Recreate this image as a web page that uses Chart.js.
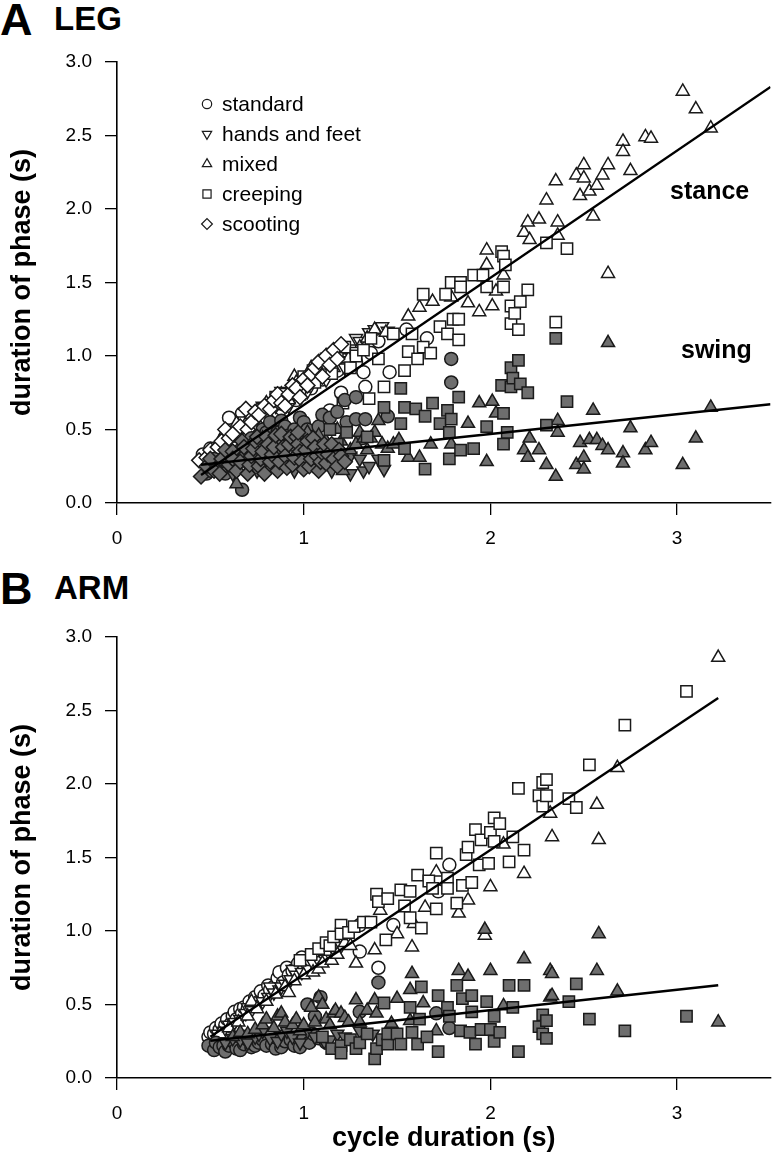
<!DOCTYPE html>
<html>
<head>
<meta charset="utf-8">
<script src="https://cdn.jsdelivr.net/npm/chart.js@4.4.0/dist/chart.umd.min.js"></script>
<style>
body { margin:0; background:#fff; width:780px; height:1173px; position:relative; overflow:hidden; font-family:"Liberation Sans", Arial, sans-serif; }
canvas { position:absolute; left:0; }
.lbl { position:absolute; font-weight:bold; color:#000; line-height:1; white-space:nowrap; }
</style>
</head>
<body>
<div class="lbl" style="left:0;top:-3px;font-size:45px">A</div>
<div class="lbl" style="left:54px;top:2px;font-size:33px">LEG</div>
<div class="lbl" style="left:0;top:566px;font-size:45px">B</div>
<div class="lbl" style="left:54px;top:571px;font-size:33px">ARM</div>
<canvas id="legChart" width="780" height="575" style="top:0"></canvas>
<canvas id="armChart" width="780" height="598" style="top:575px"></canvas>
<script>
// axis ticks
var xTicks = [0, 1, 2, 3];
var yTicks = [0, 0.5, 1, 1.5, 2, 2.5, 3];
var legendLabels = ['standard', 'hands and feet', 'mixed', 'creeping', 'scooting'];

// ---- A: LEG, stance (open) ----
var legStanceStandard = [[0.46,0.33],[0.50,0.37],[0.52,0.34],[0.55,0.38],[0.58,0.45],[0.62,0.50],[0.64,0.46],[0.67,0.61],[0.70,0.55],[0.72,0.52],[0.74,0.58],[0.78,0.62],[0.80,0.58],[0.82,0.66],[0.86,0.70],[0.88,0.64],[0.90,0.72],[0.94,0.76],[0.96,0.70],[0.98,0.80],[1.02,0.84],[1.04,0.78],[1.05,0.88],[1.08,0.90],[1.10,0.84],[1.12,0.95],[1.14,0.63],[1.18,0.90],[1.20,0.75],[1.25,1.00],[1.28,0.96],[1.32,0.89],[1.33,0.79],[1.36,1.02],[1.40,1.10],[1.46,0.89],[1.55,1.18],[1.66,1.12],[0.60,0.58]];
var legStanceHands = [[0.60,0.42],[0.65,0.48],[0.68,0.56],[0.70,0.52],[0.75,0.58],[0.78,0.66],[0.80,0.62],[0.85,0.66],[0.88,0.76],[0.90,0.70],[0.92,0.66],[0.95,0.75],[0.98,0.84],[1.00,0.80],[1.02,0.76],[1.05,0.85],[1.08,0.94],[1.10,0.90],[1.12,0.84],[1.15,0.95],[1.18,1.02],[1.20,1.00],[1.22,0.92],[1.25,1.05],[1.28,1.12],[1.30,1.10],[1.35,1.16],[1.38,1.18],[1.42,1.20],[1.45,1.17]];
var legStanceMixed = [[0.48,0.30],[0.52,0.36],[0.55,0.42],[0.60,0.44],[0.64,0.54],[0.68,0.50],[0.70,0.56],[0.72,0.60],[0.76,0.62],[0.80,0.68],[0.84,0.66],[0.88,0.74],[0.92,0.70],[0.95,0.86],[0.96,0.82],[1.00,0.78],[1.04,0.92],[1.08,0.86],[1.10,0.96],[1.12,1.00],[1.16,0.92],[1.18,1.05],[1.20,1.02],[1.21,1.04],[1.24,0.98],[1.30,1.06],[1.34,1.12],[1.38,1.18],[1.44,1.16],[1.56,1.27],[1.62,1.33],[1.69,1.37],[1.79,1.40],[1.88,1.36],[1.94,1.30],[1.98,1.72],[1.98,1.62],[2.01,1.34],[2.03,1.44],[2.07,1.55],[2.18,1.84],[2.20,1.91],[2.21,1.79],[2.26,1.93],[2.30,2.06],[2.35,2.19],[2.36,1.91],[2.36,1.82],[2.46,2.23],[2.48,2.09],[2.50,2.30],[2.50,2.21],[2.53,2.12],[2.55,1.95],[2.57,2.16],[2.60,2.23],[2.63,2.30],[2.63,1.56],[2.71,2.46],[2.71,2.39],[2.75,2.26],[2.83,2.49],[2.86,2.48],[3.03,2.80],[3.10,2.68],[3.18,2.55]];
var legStanceCreeping = [[0.78,0.64],[0.85,0.72],[0.90,0.74],[0.95,0.80],[0.98,0.74],[1.00,0.86],[1.05,0.90],[1.06,0.82],[1.10,0.95],[1.12,0.98],[1.15,0.88],[1.18,1.02],[1.21,0.68],[1.22,1.06],[1.25,0.92],[1.28,1.02],[1.28,1.00],[1.32,1.04],[1.35,0.71],[1.36,1.12],[1.40,0.98],[1.43,0.79],[1.48,1.15],[1.54,0.90],[1.56,1.03],[1.58,1.15],[1.61,0.98],[1.64,1.06],[1.64,1.42],[1.68,1.02],[1.73,1.20],[1.76,1.42],[1.77,1.15],[1.79,1.50],[1.80,1.25],[1.83,1.25],[1.83,1.11],[1.84,1.50],[1.84,1.47],[1.91,1.55],[1.96,1.55],[1.98,1.47],[2.06,1.71],[2.07,1.68],[2.07,1.47],[2.08,1.62],[2.11,1.34],[2.11,1.22],[2.13,1.29],[2.15,1.18],[2.16,1.37],[2.20,1.45],[2.30,1.77],[2.35,1.23],[2.41,1.73]];
var legStanceScooting = [[0.44,0.29],[0.48,0.31],[0.50,0.36],[0.54,0.38],[0.56,0.42],[0.58,0.50],[0.60,0.44],[0.62,0.47],[0.66,0.52],[0.69,0.64],[0.70,0.50],[0.72,0.55],[0.74,0.62],[0.76,0.60],[0.79,0.66],[0.82,0.64],[0.84,0.70],[0.86,0.74],[0.88,0.68],[0.90,0.66],[0.92,0.74],[0.94,0.80],[0.96,0.78],[0.98,0.72],[1.00,0.84],[1.02,0.80],[1.04,0.88],[1.06,0.92],[1.08,0.96],[1.10,0.86],[1.12,1.00],[1.14,0.94],[1.16,1.04],[1.18,0.98],[1.20,1.08]];

// ---- A: LEG, swing (filled) ----
var legSwingStandard = [[0.48,0.20],[0.50,0.22],[0.52,0.30],[0.55,0.28],[0.56,0.24],[0.58,0.20],[0.60,0.32],[0.62,0.24],[0.66,0.36],[0.67,0.09],[0.70,0.30],[0.72,0.44],[0.75,0.40],[0.78,0.50],[0.80,0.48],[0.82,0.55],[0.85,0.42],[0.86,0.48],[0.88,0.56],[0.90,0.52],[0.92,0.46],[0.95,0.50],[0.98,0.58],[1.00,0.55],[1.02,0.50],[1.05,0.45],[1.08,0.52],[1.10,0.60],[1.14,0.58],[1.18,0.62],[1.22,0.70],[1.23,0.55],[1.28,0.72],[1.28,0.57],[1.31,0.44],[1.33,0.57],[1.45,0.59],[1.79,0.98],[1.79,0.82]];
var legSwingHands = [[0.62,0.20],[0.70,0.25],[0.75,0.22],[0.80,0.32],[0.85,0.25],[0.90,0.28],[0.95,0.22],[1.00,0.35],[1.05,0.26],[1.10,0.30],[1.15,0.22],[1.15,0.34],[1.20,0.26],[1.25,0.20],[1.25,0.32],[1.30,0.30],[1.32,0.22],[1.35,0.25],[1.40,0.30],[1.43,0.23]];
var legSwingMixed = [[0.58,0.28],[0.64,0.13],[0.68,0.34],[0.72,0.40],[0.75,0.30],[0.78,0.44],[0.82,0.38],[0.85,0.35],[0.88,0.42],[0.92,0.30],[0.95,0.38],[0.98,0.45],[1.00,0.30],[1.02,0.48],[1.05,0.40],[1.08,0.46],[1.10,0.35],[1.12,0.42],[1.15,0.28],[1.18,0.50],[1.20,0.42],[1.21,0.22],[1.25,0.36],[1.28,0.40],[1.30,0.48],[1.32,0.44],[1.34,0.36],[1.36,0.44],[1.38,0.48],[1.40,0.56],[1.42,0.40],[1.45,0.37],[1.48,0.40],[1.51,0.43],[1.56,0.31],[1.62,0.31],[1.68,0.40],[1.79,0.40],[1.88,0.54],[1.94,0.68],[1.98,0.28],[2.01,0.69],[2.03,0.61],[2.18,0.36],[2.20,0.31],[2.21,0.44],[2.26,0.36],[2.30,0.26],[2.35,0.18],[2.36,0.56],[2.36,0.48],[2.46,0.26],[2.48,0.41],[2.50,0.31],[2.50,0.23],[2.53,0.43],[2.55,0.63],[2.57,0.43],[2.60,0.39],[2.63,0.36],[2.63,1.09],[2.71,0.34],[2.71,0.27],[2.75,0.51],[2.83,0.36],[2.86,0.41],[3.03,0.26],[3.10,0.44],[3.18,0.65]];
var legSwingCreeping = [[1.14,0.50],[1.18,0.40],[1.23,0.48],[1.34,0.45],[1.43,0.65],[1.43,0.29],[1.52,0.78],[1.52,0.54],[1.54,0.65],[1.54,0.37],[1.60,0.64],[1.65,0.59],[1.65,0.23],[1.69,0.68],[1.73,0.54],[1.77,0.63],[1.78,0.48],[1.78,0.30],[1.79,0.57],[1.83,0.72],[1.84,0.36],[1.91,0.37],[1.98,0.52],[2.06,0.80],[2.07,0.61],[2.07,0.40],[2.09,0.48],[2.11,0.92],[2.11,0.79],[2.12,0.85],[2.15,0.97],[2.16,0.81],[2.20,0.75],[2.30,0.53],[2.35,1.12],[2.41,0.69]];
var legSwingScooting = [[0.45,0.18],[0.48,0.25],[0.50,0.30],[0.52,0.22],[0.55,0.20],[0.56,0.30],[0.58,0.36],[0.60,0.26],[0.62,0.35],[0.62,0.30],[0.64,0.22],[0.66,0.28],[0.67,0.42],[0.68,0.38],[0.70,0.20],[0.71,0.26],[0.72,0.32],[0.73,0.37],[0.74,0.42],[0.75,0.45],[0.76,0.25],[0.77,0.30],[0.78,0.35],[0.79,0.20],[0.80,0.45],[0.81,0.40],[0.82,0.28],[0.83,0.33],[0.84,0.38],[0.85,0.46],[0.86,0.22],[0.87,0.28],[0.88,0.47],[0.89,0.38],[0.90,0.32],[0.91,0.24],[0.92,0.40],[0.93,0.45],[0.94,0.26],[0.95,0.31],[0.96,0.45],[0.97,0.40],[0.97,0.48],[0.98,0.35],[0.99,0.28],[1.00,0.23],[1.01,0.36],[1.02,0.42],[1.03,0.25],[1.04,0.30],[1.05,0.44],[1.06,0.38],[1.07,0.32],[1.08,0.22],[1.09,0.28],[1.10,0.34],[1.11,0.40],[1.12,0.27],[1.13,0.33],[1.15,0.40],[1.16,0.30],[1.18,0.25],[1.19,0.36],[1.20,0.32],[1.22,0.28]];

// ---- B: ARM, stance (open) ----
var armStanceStandard = [[0.49,0.28],[0.50,0.31],[0.52,0.30],[0.53,0.34],[0.55,0.33],[0.56,0.37],[0.58,0.36],[0.59,0.40],[0.61,0.37],[0.62,0.42],[0.63,0.45],[0.64,0.40],[0.66,0.47],[0.67,0.44],[0.68,0.48],[0.70,0.47],[0.71,0.52],[0.73,0.50],[0.74,0.55],[0.76,0.52],[0.77,0.59],[0.79,0.56],[0.81,0.63],[0.82,0.60],[0.84,0.62],[0.86,0.68],[0.87,0.72],[0.89,0.65],[0.91,0.75],[0.92,0.70],[0.94,0.73],[0.97,0.78],[0.99,0.82],[1.00,0.74],[1.03,0.76],[1.04,0.80],[1.08,0.85],[1.12,0.84],[1.30,1.04],[1.30,0.86],[1.40,0.75],[1.48,1.04],[1.72,1.27],[1.78,1.45]];
var armStanceHands = [[0.54,0.30],[0.57,0.32],[0.60,0.36],[0.63,0.38],[0.66,0.40],[0.69,0.44],[0.70,0.48],[0.72,0.46],[0.75,0.50],[0.78,0.52],[0.81,0.55],[0.82,0.62],[0.84,0.58],[0.87,0.60],[0.88,0.62],[0.90,0.64],[0.93,0.67],[0.94,0.74],[0.96,0.70],[0.99,0.72],[1.02,0.74],[1.05,0.78],[1.08,0.80],[1.11,0.82],[1.14,0.84],[1.16,0.86],[1.18,0.88],[1.20,0.90]];
var armStanceMixed = [[0.55,0.30],[0.60,0.34],[0.65,0.38],[0.70,0.42],[0.72,0.52],[0.75,0.47],[0.80,0.52],[0.85,0.57],[0.90,0.62],[0.92,0.58],[0.95,0.66],[1.00,0.70],[1.05,0.72],[1.08,0.74],[1.10,0.78],[1.12,0.86],[1.15,0.80],[1.18,0.84],[1.22,0.92],[1.25,0.90],[1.28,0.78],[1.38,0.87],[1.41,1.14],[1.50,0.98],[1.58,0.89],[1.59,1.05],[1.65,1.16],[1.71,1.40],[1.83,1.12],[1.88,1.21],[1.97,0.97],[2.00,1.30],[2.07,1.59],[2.18,1.39],[2.32,1.80],[2.33,1.64],[2.57,1.86],[2.58,1.62],[2.68,2.11],[3.22,2.86]];
var armStanceCreeping = [[0.98,0.80],[1.04,0.84],[1.08,0.88],[1.12,0.92],[1.14,0.90],[1.16,0.96],[1.20,1.04],[1.20,0.98],[1.24,0.99],[1.27,1.03],[1.32,1.06],[1.36,1.06],[1.39,1.25],[1.40,1.20],[1.44,0.94],[1.45,1.22],[1.52,1.28],[1.54,1.17],[1.57,1.27],[1.57,1.09],[1.61,1.38],[1.63,1.02],[1.67,1.34],[1.69,1.29],[1.71,1.53],[1.71,1.15],[1.77,1.36],[1.77,1.29],[1.82,1.19],[1.85,1.31],[1.87,1.52],[1.88,1.57],[1.90,1.33],[1.92,1.69],[1.94,1.45],[1.95,1.62],[1.99,1.46],[2.00,1.67],[2.02,1.77],[2.02,1.61],[2.05,1.73],[2.10,1.47],[2.12,1.64],[2.15,1.97],[2.18,1.55],[2.26,1.92],[2.28,2.01],[2.28,1.85],[2.30,2.03],[2.30,1.92],[2.42,1.90],[2.46,1.84],[2.53,2.13],[2.72,2.40],[3.05,2.63]];

// ---- B: ARM, swing (filled) ----
var armSwingStandard = [[0.49,0.22],[0.52,0.19],[0.53,0.24],[0.55,0.21],[0.57,0.22],[0.58,0.18],[0.60,0.22],[0.62,0.25],[0.63,0.24],[0.64,0.20],[0.66,0.19],[0.68,0.23],[0.68,0.28],[0.70,0.26],[0.72,0.21],[0.74,0.22],[0.76,0.24],[0.78,0.26],[0.80,0.22],[0.83,0.23],[0.85,0.20],[0.86,0.27],[0.88,0.21],[0.90,0.25],[0.93,0.26],[0.95,0.22],[0.98,0.21],[1.00,0.27],[1.02,0.50],[1.03,0.24],[1.05,0.30],[1.06,0.42],[1.08,0.27],[1.09,0.55],[1.12,0.24],[1.30,0.45],[1.40,0.65],[1.71,0.44],[1.78,0.34]];
var armSwingHands = [[0.58,0.24],[0.62,0.27],[0.66,0.26],[0.70,0.24],[0.74,0.28],[0.76,0.30],[0.78,0.32],[0.82,0.27],[0.86,0.25],[0.88,0.30],[0.91,0.32],[0.94,0.28],[0.98,0.24],[1.02,0.32],[1.06,0.28],[1.11,0.25],[1.14,0.26],[1.18,0.30],[1.22,0.28],[1.30,0.32],[1.37,0.30]];
var armSwingMixed = [[0.62,0.28],[0.66,0.31],[0.70,0.30],[0.74,0.33],[0.78,0.36],[0.80,0.40],[0.84,0.34],[0.86,0.42],[0.88,0.44],[0.90,0.38],[0.94,0.36],[0.96,0.40],[0.98,0.32],[1.00,0.36],[1.04,0.48],[1.06,0.38],[1.08,0.55],[1.10,0.50],[1.12,0.40],[1.14,0.36],[1.16,0.44],[1.17,0.46],[1.20,0.44],[1.22,0.41],[1.24,0.38],[1.28,0.53],[1.30,0.38],[1.34,0.46],[1.38,0.53],[1.39,0.44],[1.47,0.37],[1.50,0.54],[1.57,0.60],[1.57,0.39],[1.58,0.71],[1.64,0.51],[1.71,0.32],[1.83,0.73],[1.88,0.69],[1.97,1.01],[2.00,0.73],[2.07,0.49],[2.18,0.81],[2.32,0.73],[2.32,0.55],[2.33,0.71],[2.33,0.56],[2.57,0.73],[2.58,0.98],[2.68,0.59],[3.22,0.38]];
var armSwingCreeping = [[1.10,0.28],[1.15,0.20],[1.20,0.22],[1.20,0.17],[1.25,0.26],[1.28,0.20],[1.30,0.24],[1.34,0.30],[1.38,0.13],[1.39,0.20],[1.42,0.26],[1.43,0.51],[1.45,0.23],[1.45,0.30],[1.50,0.30],[1.52,0.23],[1.57,0.48],[1.58,0.31],[1.61,0.23],[1.62,0.40],[1.63,0.62],[1.66,0.28],[1.72,0.56],[1.72,0.18],[1.77,0.48],[1.78,0.42],[1.82,0.63],[1.84,0.32],[1.85,0.54],[1.89,0.31],[1.90,0.56],[1.90,0.45],[1.92,0.23],[1.95,0.33],[1.98,0.52],[2.00,0.33],[2.02,0.42],[2.02,0.25],[2.05,0.31],[2.10,0.63],[2.12,0.48],[2.15,0.18],[2.18,0.63],[2.26,0.35],[2.28,0.43],[2.28,0.30],[2.30,0.39],[2.30,0.27],[2.42,0.52],[2.46,0.64],[2.53,0.40],[2.72,0.32],[3.05,0.42]];

// regression lines (end points)
var legStanceFit = [[0.45,0.19],[3.5,2.83]];
var legSwingFit = [[0.45,0.26],[3.5,0.672]];
var armStanceFit = [[0.5,0.28],[3.22,2.585]];
var armSwingFit = [[0.5,0.253],[3.22,0.631]];

var GRAY = '#6e6e6e';
var INK = '#1a1a1a';
var FONT = '"Liberation Sans", Arial, sans-serif';

var marker = {
  standard: { pointStyle: 'circle', rotation: 0, radius: 6.5 },
  hands: { pointStyle: 'triangle', rotation: 180, radius: 7.5 },
  mixed: { pointStyle: 'triangle', rotation: 0, radius: 7.5 },
  creeping: { pointStyle: 'rect', rotation: 0, radius: 8 },
  scooting: { pointStyle: 'rectRot', rotation: 0, radius: 7.5 }
};

function pts(arr) {
  return arr.map(function (p) { return { x: p[0], y: p[1] }; });
}

function scatterSet(data, kind, filled) {
  var m = marker[kind];
  return {
    type: 'scatter',
    data: pts(data),
    order: filled ? 1 : 2,
    pointStyle: m.pointStyle,
    pointRotation: m.rotation,
    pointRadius: m.radius,
    pointHoverRadius: m.radius,
    pointBackgroundColor: filled ? GRAY : '#fff',
    pointBorderColor: INK,
    pointBorderWidth: 1.5
  };
}

function fitSet(data) {
  return {
    type: 'line',
    data: pts(data),
    order: 0,
    borderColor: '#000',
    borderWidth: 2.4,
    pointRadius: 0,
    fill: false
  };
}

// symbols legend + in-plot words
var extrasPlugin = {
  id: 'extras',
  afterDraw: function (chart, args, opts) {
    var ctx = chart.ctx;
    ctx.save();
    (opts.legend || []).forEach(function (it, i) {
      var y = opts.legendY + i * opts.legendGap;
      var m = marker[it.kind];
      ctx.fillStyle = '#fff';
      ctx.strokeStyle = INK;
      ctx.lineWidth = 1.2;
      Chart.helpers.drawPoint(ctx, { pointStyle: m.pointStyle, rotation: m.rotation, radius: m.radius * 0.72, borderWidth: 1.2 }, opts.legendX, y);
      ctx.fillStyle = '#000';
      ctx.font = '21px ' + FONT;
      ctx.textBaseline = 'middle';
      ctx.textAlign = 'left';
      ctx.fillText(it.text, opts.legendX + 15, y + 1);
    });
    (opts.words || []).forEach(function (w) {
      ctx.fillStyle = '#000';
      ctx.font = 'bold 25px ' + FONT;
      ctx.textBaseline = 'alphabetic';
      ctx.textAlign = 'left';
      ctx.fillText(w.text, w.x, w.y);
    });
    ctx.restore();
  }
};

function makeChart(id, datasets, xTitle, xHeight, extras) {
  return new Chart(id, {
    data: { datasets: datasets },
    plugins: [extrasPlugin],
    options: {
      responsive: false,
      animation: false,
      devicePixelRatio: 1,
      layout: { padding: { top: 62, right: 4, bottom: 0, left: 0 } },
      plugins: { legend: { display: false }, tooltip: { enabled: false }, extras: extras },
      scales: {
        x: {
          type: 'linear', min: 0, max: 3.5, bounds: 'data',
          afterBuildTicks: function (s) { s.ticks = xTicks.map(function (v) { return { value: v }; }); },
          afterFit: function (s) { s.height = xHeight; },
          ticks: { color: '#000', font: { family: FONT, size: 19 }, padding: 12, maxRotation: 0, callback: function (v) { return String(v); } },
          grid: { display: true, drawOnChartArea: false, drawTicks: true, tickLength: 12, color: '#000', lineWidth: 1.3 },
          border: { display: true, color: '#000', width: 1.6 },
          title: { display: !!xTitle, text: xTitle || '', color: '#000', font: { family: FONT, size: 27, weight: 'bold' }, padding: { top: 0, bottom: 18 } }
        },
        y: {
          type: 'linear', min: 0, max: 3, bounds: 'data',
          afterBuildTicks: function (s) { s.ticks = yTicks.map(function (v) { return { value: v }; }); },
          afterFit: function (s) { s.width = 117; },
          ticks: { color: '#000', font: { family: FONT, size: 19 }, padding: 13, callback: function (v) { return Number(v).toFixed(1); } },
          grid: { display: true, drawOnChartArea: false, drawTicks: true, tickLength: 12, color: '#000', lineWidth: 1.3 },
          border: { display: true, color: '#000', width: 1.6 },
          title: { display: true, text: 'duration of phase (s)', color: '#000', font: { family: FONT, size: 27, weight: 'bold' }, padding: { top: 6, bottom: 0 } }
        }
      }
    }
  });
}

makeChart('legChart', [
  fitSet(legStanceFit), fitSet(legSwingFit),
  scatterSet(legSwingScooting, 'scooting', true),
  scatterSet(legSwingCreeping, 'creeping', true),
  scatterSet(legSwingMixed, 'mixed', true),
  scatterSet(legSwingHands, 'hands', true),
  scatterSet(legSwingStandard, 'standard', true),
  scatterSet(legStanceScooting, 'scooting', false),
  scatterSet(legStanceCreeping, 'creeping', false),
  scatterSet(legStanceMixed, 'mixed', false),
  scatterSet(legStanceHands, 'hands', false),
  scatterSet(legStanceStandard, 'standard', false)
], null, 72, {
  legendX: 207, legendY: 104, legendGap: 30,
  legend: [
    { kind: 'standard', text: legendLabels[0] },
    { kind: 'hands', text: legendLabels[1] },
    { kind: 'mixed', text: legendLabels[2] },
    { kind: 'creeping', text: legendLabels[3] },
    { kind: 'scooting', text: legendLabels[4] }
  ],
  words: [{ text: 'stance', x: 670, y: 199 }, { text: 'swing', x: 681, y: 358 }]
});

makeChart('armChart', [
  fitSet(armStanceFit), fitSet(armSwingFit),
  scatterSet(armSwingCreeping, 'creeping', true),
  scatterSet(armSwingMixed, 'mixed', true),
  scatterSet(armSwingHands, 'hands', true),
  scatterSet(armSwingStandard, 'standard', true),
  scatterSet(armStanceCreeping, 'creeping', false),
  scatterSet(armStanceMixed, 'mixed', false),
  scatterSet(armStanceHands, 'hands', false),
  scatterSet(armStanceStandard, 'standard', false)
], 'cycle duration (s)', 95, {});
</script>
</body>
</html>
